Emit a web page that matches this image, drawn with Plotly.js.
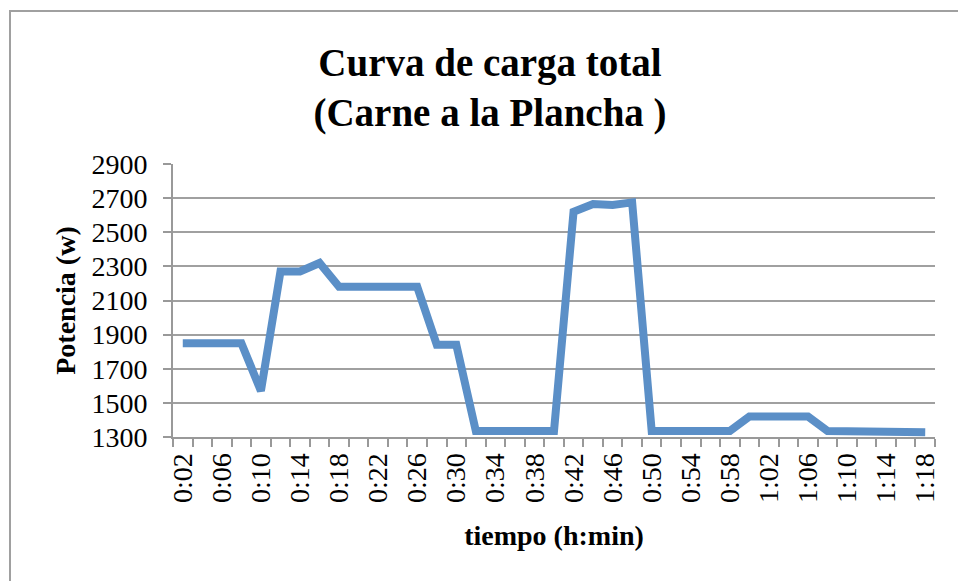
<!DOCTYPE html>
<html>
<head>
<meta charset="utf-8">
<script src="https://cdn.plot.ly/plotly-3.0.1.min.js"></script>
<style>
  html, body { margin: 0; padding: 0; background: #ffffff; }
  #wrap { position: relative; width: 958px; height: 581px; overflow: hidden; }
  #chart { position: absolute; left: 0; top: 0; width: 958px; height: 581px; }
  #frame { position: absolute; left: 9px; top: 10px; width: 1000px; height: 600px;
           border-left: 2px solid #a0a0a0; border-top: 2px solid #a0a0a0; pointer-events: none; }
</style>
</head>
<body>
<div id="wrap">
  <div id="chart"></div>
  <div id="frame"></div>
</div>
<script>
const categories = ['0:02','0:04','0:06','0:08','0:10','0:12','0:14','0:16','0:18','0:20',
                    '0:22','0:24','0:26','0:28','0:30','0:32','0:34','0:36','0:38','0:40',
                    '0:42','0:44','0:46','0:48','0:50','0:52','0:54','0:56','0:58','1:00',
                    '1:02','1:04','1:06','1:08','1:10','1:12','1:14','1:16','1:18'];
const potencia = [1850,1850,1850,1850,1570,2270,2270,2320,2180,2180,
                  2180,2180,2180,1840,1840,1335,1335,1335,1335,1335,
                  2620,2665,2660,2675,1335,1335,1335,1335,1335,1420,
                  1420,1420,1420,1335,1335,1335,1330,1328,1328];
const titleText = 'Curva de carga total<br>(Carne a la Plancha )';
const xTitle = 'tiempo (h:min)';
const yTitle = 'Potencia (w)';

const tickText = categories.map((c, i) => (i % 2 === 0 ? c : ''));
const FONT = 'Liberation Serif, Times New Roman, serif';

const trace = {
  type: 'scatter',
  mode: 'lines',
  x: categories,
  y: potencia,
  line: { color: '#5B8FC7', width: 8, shape: 'linear' },
  hoverinfo: 'x+y'
};

const layout = {
  width: 958,
  height: 581,
  paper_bgcolor: '#ffffff',
  plot_bgcolor: '#ffffff',
  margin: { l: 173, r: 23, t: 164, b: 144, pad: 0 },
  showlegend: false,
  font: { family: FONT, color: '#000000', size: 28 },
  title: {
    text: titleText,
    font: { family: FONT, size: 39, weight: 'bold', color: '#000000' },
    x: 490 / 958, xref: 'container', xanchor: 'center',
    y: 0.870, yref: 'container', yanchor: 'top'
  },
  xaxis: {
    type: 'category',
    range: [-0.5, categories.length - 0.5],
    tickmode: 'array',
    tickvals: categories,
    ticktext: tickText,
    tickson: 'boundaries',
    tickangle: -90,
    ticks: 'outside',
    ticklen: 8,
    tickwidth: 2,
    tickcolor: '#999999',
    showline: true,
    linecolor: '#999999',
    linewidth: 2,
    showgrid: false,
    zeroline: false,
    ticklabelstandoff: 3,
    tickfont: { family: FONT, size: 28, color: '#000000' },
    title: { text: xTitle, font: { family: FONT, size: 28, weight: 'bold', color: '#000000' }, standoff: 23 },
    automargin: false
  },
  yaxis: {
    range: [1300, 2900],
    tickmode: 'linear',
    tick0: 1300,
    dtick: 200,
    ticks: 'outside',
    ticklen: 8,
    tickwidth: 2,
    tickcolor: '#999999',
    showline: true,
    linecolor: '#999999',
    linewidth: 2,
    showgrid: true,
    gridcolor: '#a0a0a0',
    gridwidth: 2,
    zeroline: false,
    ticklabelstandoff: 10,
    tickfont: { family: FONT, size: 28, color: '#000000' },
    title: { text: yTitle, font: { family: FONT, size: 28, weight: 'bold', color: '#000000' }, standoff: 8 },
    automargin: false
  }
};

Plotly.newPlot('chart', [trace], layout, { displayModeBar: false, staticPlot: true });
</script>
</body>
</html>
